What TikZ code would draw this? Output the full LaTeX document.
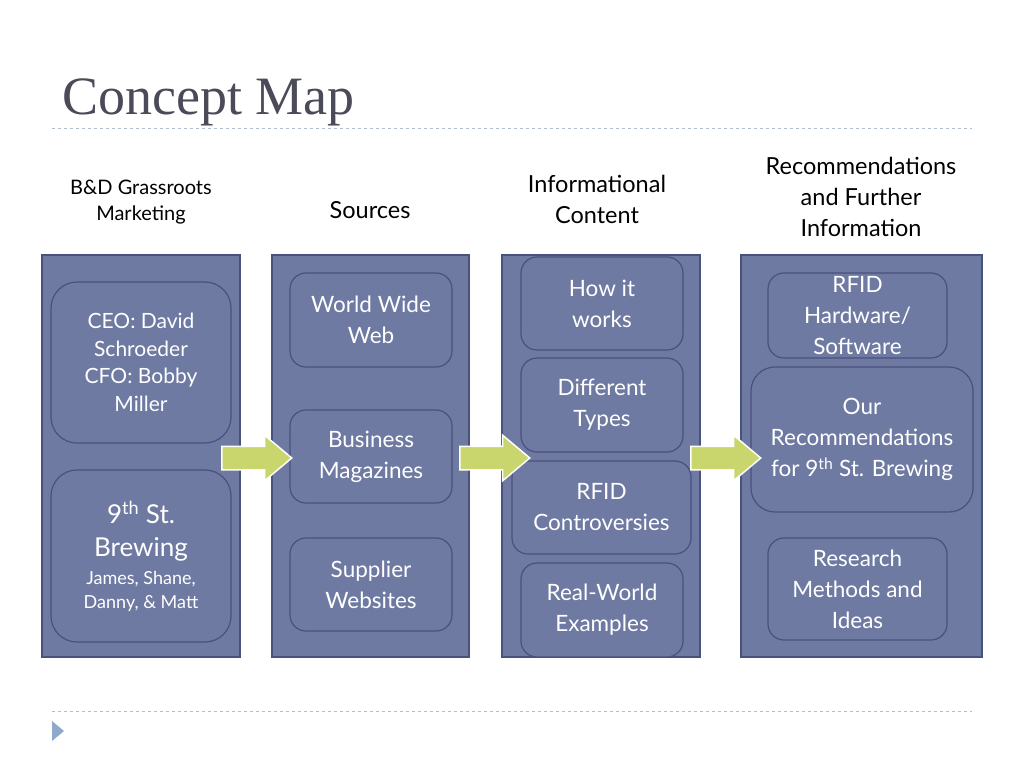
\documentclass[tikz,border=0pt]{standalone}
\usepackage{fontspec}
\setmainfont{Lato}
\newfontfamily\titlefont{Liberation Serif}
\usetikzlibrary{shapes.arrows}

\definecolor{slate}{HTML}{6E7AA2}
\definecolor{slateline}{HTML}{48527E}
\definecolor{leaf}{HTML}{C9D66E}
\definecolor{rule}{HTML}{B4BFCC}
\definecolor{ink}{HTML}{4A4A58}
\newcommand{\crewsize}{\fontsize{18}{23}\selectfont}

\begin{document}
\begin{tikzpicture}[x=1pt,y=-1pt,
  column/.style={draw=slateline, line width=1.2pt, fill=slate, inner sep=0pt},
  topic/.style={draw=slateline, line width=1.2pt, fill=slate, rounded corners=16pt,
    text=white, align=center, inner sep=0pt, font=\fontsize{22.5}{31}\selectfont},
  head/.style={align=center, font=\fontsize{23.5}{31}\selectfont},
  blockarrow/.style={single arrow, fill=leaf, draw=white, line width=1.5pt,
    inner xsep=0pt, inner ysep=11pt, single arrow head extend=11pt,
    single arrow tip angle=80, minimum height=70pt, anchor=west}]
  \useasboundingbox[fill=white] (0,0) rectangle (1024,768);

  % title and rules
  \node[anchor=base west, inner xsep=0pt, text=ink, font=\titlefont\fontsize{54}{58}\selectfont]
    (title) at (62,114) {Concept Map};
  \draw[rule, dashed, line width=1pt] (52,128) -- (972,128);
  \draw[rule, dashed, line width=1pt] (52,711) -- (972,711);
  \fill[fill={rgb,255:red,143;green,169;blue,204}] (52,721) -- (64,731) -- (52,741) -- cycle;

  % headings
  \node[head, font=\fontsize{20}{26}\selectfont] (hbd) at (141,202) {B\&D Grassroots\\Marketing};
  \node[head] (hsrc) at (370,210) {Sources};
  \node[head] (hinf) at (597,199) {Informational\\Content};
  \node[head] (hrec) at (861,197) {Recommendations\\and Further\\Information};

  % columns
  \node[column, minimum width=198pt, minimum height=402pt] (colbd) at (141,456) {};
  \node[column, minimum width=197pt, minimum height=402pt] (colsrc) at (370.5,456) {};
  \node[column, minimum width=198pt, minimum height=402pt] (colinf) at (601,456) {};
  \node[column, minimum width=241pt, minimum height=402pt] (colrec) at (861.5,456) {};

  % first column
  \node[topic, rounded corners=26pt, minimum width=180pt, minimum height=161pt,
    font=\fontsize{21}{27.5}\selectfont] (ceo) at (141,362.5)
    {CEO: David\\Schroeder\\CFO: Bobby\\Miller};
  \node[topic, rounded corners=26pt, minimum width=180pt, minimum height=172pt,
    font=\fontsize{26}{33}\selectfont] (brew) at (141,556)
    {9\textsuperscript{th} St.\\Brewing\\[-5pt]
     \crewsize James, Shane,\\[-9pt]\crewsize Danny, \& Matt};

  % sources
  \node[topic, minimum width=162pt, minimum height=94pt] (www) at (371,320) {World Wide\\Web};
  \node[topic, minimum width=162pt, minimum height=93pt] (mag) at (371,456.5) {Business\\Magazines};
  \node[topic, minimum width=162pt, minimum height=93pt] (sup) at (371,584.5) {Supplier\\Websites};

  % informational content
  \node[topic, minimum width=162pt, minimum height=93pt] (how) at (602,303.5) {How it\\works};
  \node[topic, minimum width=162pt, minimum height=94pt] (types) at (602,405) {Different\\Types};
  \node[topic, minimum width=179pt, minimum height=93pt] (contr) at (601.5,507.5) {RFID\\Controversies};
  \node[topic, minimum width=162pt, minimum height=94pt] (real) at (602,610) {Real-World\\Examples};

  % recommendations
  \node[topic, minimum width=179pt, minimum height=85pt] (hw) at (857.5,315.5) {RFID\\Hardware/\\Software};
  \node[topic, rounded corners=24pt, minimum width=222pt, minimum height=145pt] (ours) at (862,439.5)
    {Our\\Recommendations\\for 9\textsuperscript{th} St. Brewing};
  \node[topic, minimum width=179pt, minimum height=102pt] (meth) at (857.5,589) {Research\\Methods and\\Ideas};

  % block arrows
  \node[blockarrow] (arr1) at (221,458) {};
  \node[blockarrow] (arr2) at (459,458) {};
  \node[blockarrow] (arr3) at (690,458) {};
\end{tikzpicture}
\end{document}
